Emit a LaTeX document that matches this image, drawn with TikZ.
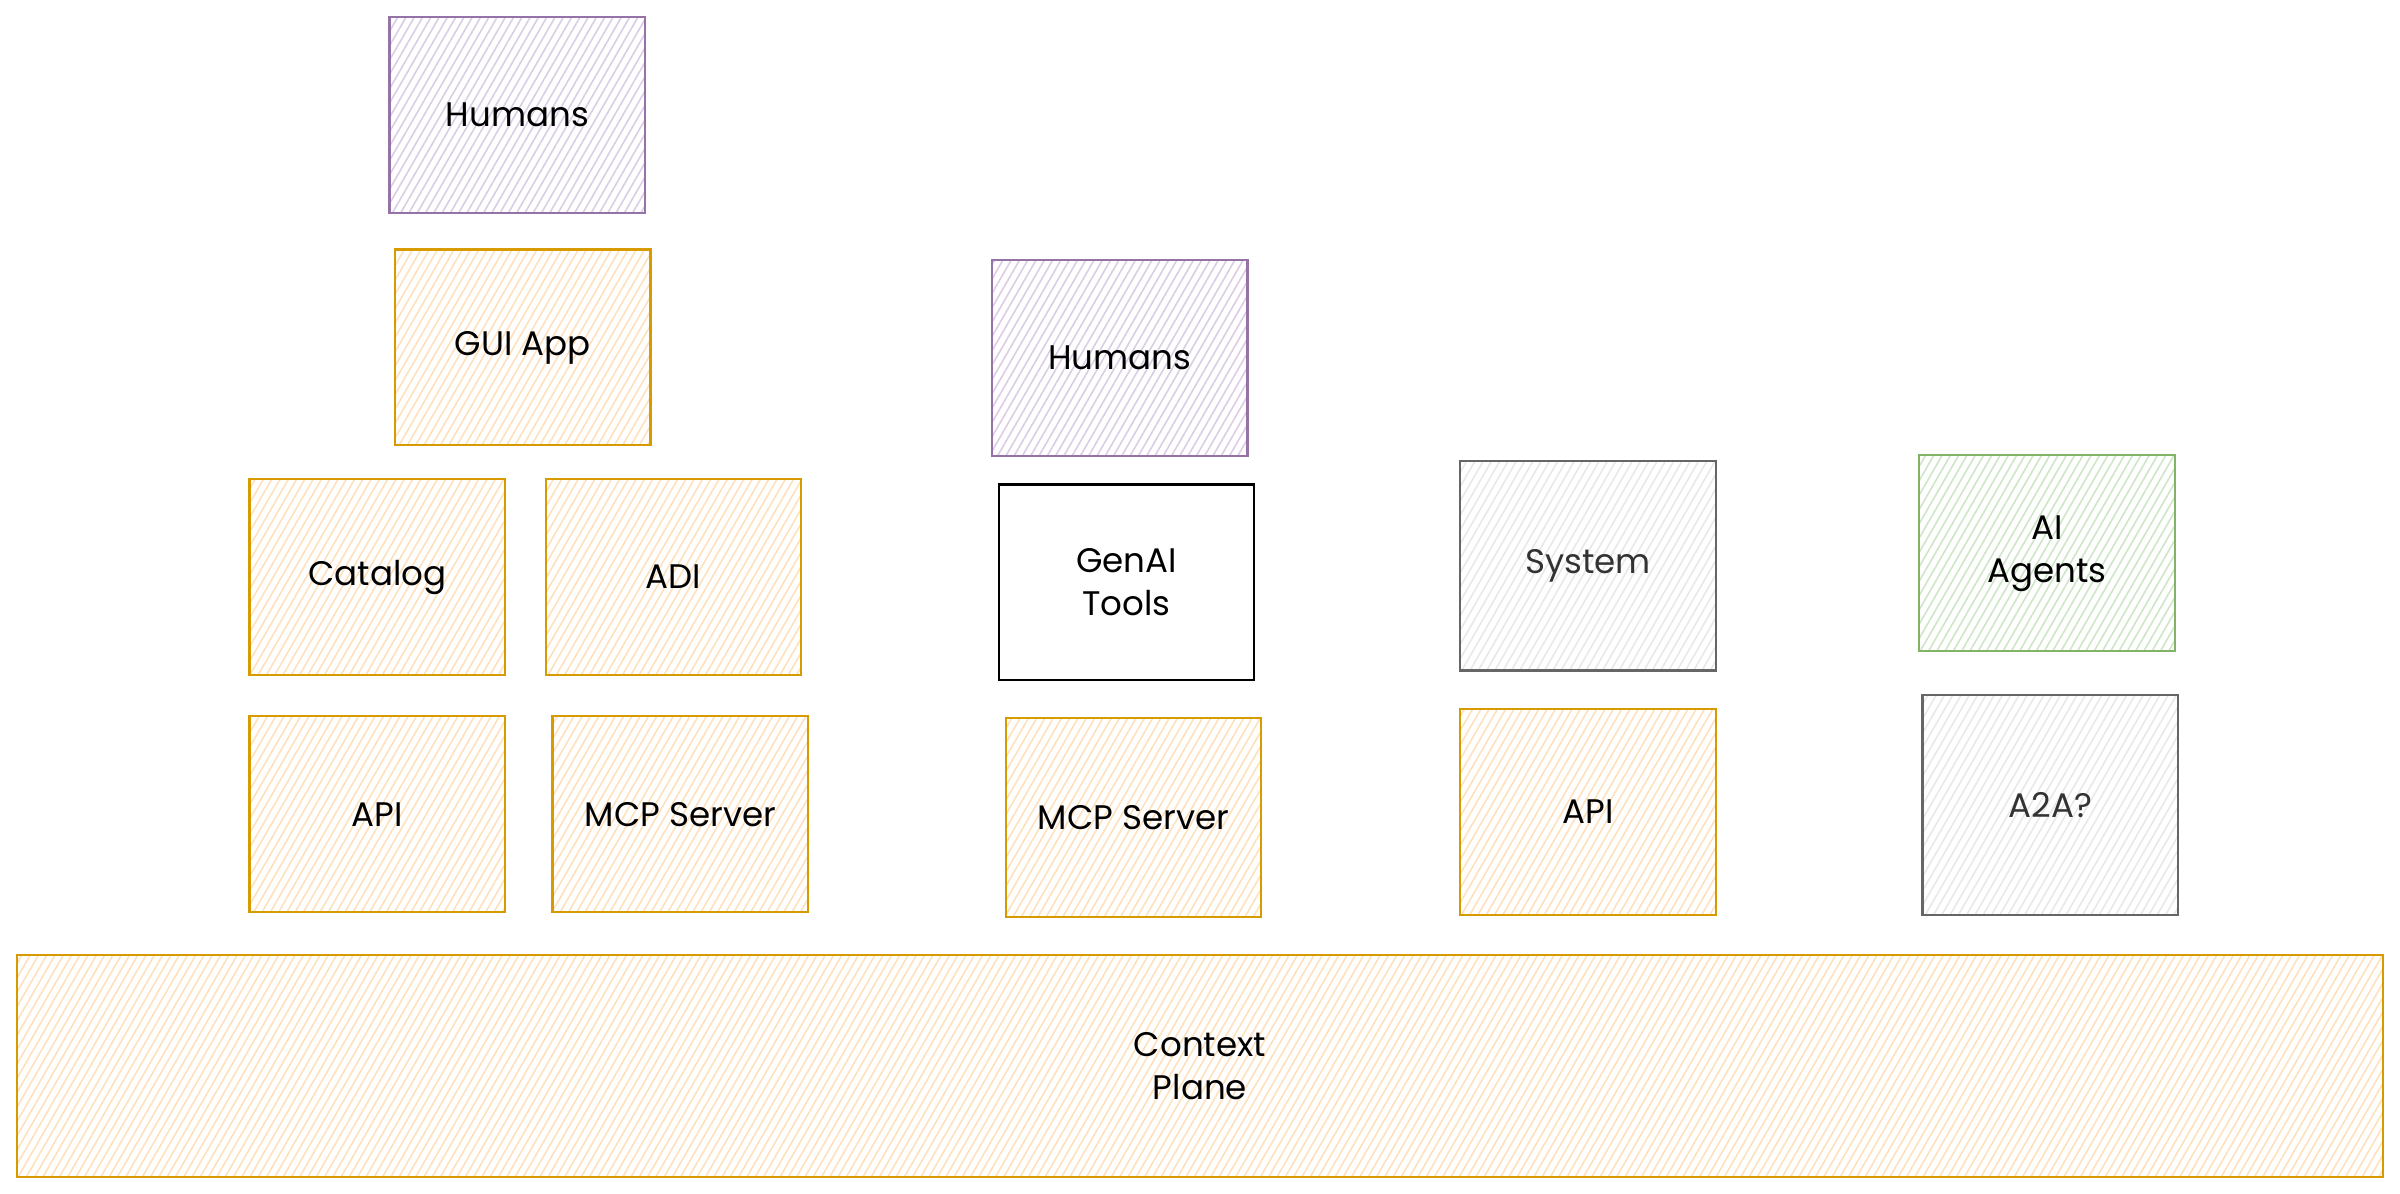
\documentclass[tikz,border=0pt]{standalone}
\usepackage{fontspec}
\setmainfont{Poppins}
\usetikzlibrary{patterns.meta}
\definecolor{orgline}{HTML}{D79B00}
\definecolor{orgfill}{HTML}{FFE0BC}
\definecolor{purline}{HTML}{9673A6}
\definecolor{purfill}{HTML}{DCCDE6}
\definecolor{grnline}{HTML}{82B366}
\definecolor{grnfill}{HTML}{CDE6C8}
\definecolor{grayline}{HTML}{666666}
\definecolor{grayfill}{HTML}{E8E8E8}
\definecolor{graytext}{HTML}{333333}
\begin{document}
\begin{tikzpicture}[x=0.015cm, y=-0.015cm,
  blk/.style={draw, line width=0.6pt, align=center, inner sep=0pt,
    minimum width=2.505cm, minimum height=1.92cm,
    font=\fontsize{9.5}{12}\selectfont},
  hatch/.style={pattern={Lines[angle=60,distance=2pt,line width=0.45pt]}, pattern color=#1},
  orgbox/.style={blk, draw=orgline, hatch=orgfill},
  purbox/.style={blk, draw=purline, hatch=purfill},
  grnbox/.style={blk, draw=grnline, hatch=grnfill},
  graybox/.style={blk, draw=grayline, hatch=grayfill, text=graytext},
  plainbox/.style={blk, draw=black, fill=white}]
\useasboundingbox (0,0) rectangle (1568,780);
% left stack
\node[purbox] (humA) at (338,75) {Humans};
\node[orgbox] (gui) at (341.5,227) {GUI App};
\node[orgbox] (catalog) at (246.5,377) {Catalog};
\node[orgbox] (adi) at (440,377) {ADI};
\node[orgbox] (apiA) at (246.5,532) {API};
\node[orgbox] (mcpA) at (444.5,532) {MCP Server};
% middle stack
\node[purbox] (humB) at (731.5,234) {Humans};
\node[plainbox] (genai) at (736,380.5) {GenAI\\Tools};
\node[orgbox, minimum height=1.95cm] (mcpB) at (740.5,534) {MCP Server};
% systems
\node[graybox, minimum height=2.055cm] (system) at (1037.5,369.5) {System};
\node[orgbox, minimum height=2.025cm] (apiB) at (1037.5,530.5) {API};
% agents
\node[grnbox] (agents) at (1337.5,361.5) {AI\\Agents};
\node[graybox, minimum height=2.16cm] (a2a) at (1339.5,526) {A2A?};
% base
\node[orgbox, minimum width=23.19cm, minimum height=2.175cm] (context) at (784,696.5) {Context\\Plane};
\end{tikzpicture}
\end{document}
